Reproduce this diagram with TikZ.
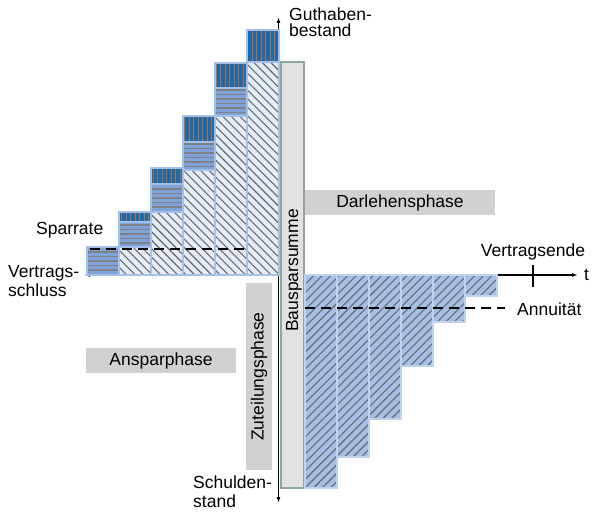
\documentclass[tikz,border=0pt]{standalone}
\usepackage{fontspec}
\setmainfont{Liberation Sans}
\usetikzlibrary{arrows.meta, positioning, patterns.meta}
\definecolor{bspBorder}{RGB}{164, 191, 232}
\definecolor{bspLight}{RGB}{228, 236, 248}
\definecolor{bspMid}{RGB}{126, 163, 216}
\definecolor{bspDark}{RGB}{28, 106, 168}
\definecolor{bspStripe}{RGB}{176, 112, 80}
\definecolor{bspDebt}{RGB}{166, 191, 230}
\definecolor{bspHatch}{RGB}{105, 105, 110}
\definecolor{bspPhase}{RGB}{208, 209, 208}
\definecolor{bspBar}{RGB}{226, 226, 226}
\definecolor{bspBarLine}{RGB}{138, 168, 160}

\begin{document}
\begin{tikzpicture}[
        x=1pt, y=-1pt,
        lbl/.style={font=\fontsize{17.5}{19}\selectfont, inner sep=0pt, align=left},
        phase/.style={rectangle, fill=bspPhase, inner sep=0pt, font=\fontsize{17.5}{19}\selectfont},
        saved/.style={draw=bspBorder, line width=2pt, preaction={fill=bspLight}, pattern={Lines[angle=-45, distance=6pt, line width=1.1pt]}, pattern color=bspHatch},
        rate/.style={draw=bspBorder, line width=2pt, preaction={fill=bspMid}, pattern={Lines[angle=0, distance=4.5pt, line width=1.2pt]}, pattern color=gray},
        interest/.style={draw=bspBorder, line width=2pt, preaction={fill=bspDark}, pattern={Lines[angle=90, distance=4.5pt, line width=1pt]}, pattern color=bspStripe},
        debt/.style={draw=bspBorder!70!white, line width=2pt, preaction={fill=bspDebt}, pattern={Lines[angle=45, distance=6pt, line width=1.1pt]}, pattern color=bspHatch},
        axis/.style={line width=1.2pt, {Latex[length=6pt, width=4pt]}-{Latex[length=6pt, width=4pt]}},
        marker/.style={line width=2.5pt, dash pattern=on 10pt off 6pt}
    ]
        \useasboundingbox (0,0) rectangle (594,513);

        % Axes
        \coordinate (ytop) at (278.5,17);
        \coordinate (ybottom) at (278.5,503);
        \coordinate (xleft) at (84,275);
        \coordinate (xright) at (578,275);
        \draw[axis] (ybottom) -- (ytop);
        \draw[axis] (xleft) -- (xright);
        \coordinate (ticktop) at (533,265);
        \coordinate (tickbottom) at (533,287);
        \draw[line width=1.6pt] (ticktop) -- (tickbottom);

        % Bausparsumme bar
        \draw[fill=bspBar, draw=bspBarLine, line width=1.5pt] (281,62) rectangle (304,488);
        \node[lbl, rotate=90, anchor=base west] (summe) at (298,332) {Bausparsumme};

        % Savings columns
        \draw[rate] (87,247) rectangle (119,275);
        \foreach \x/\s/\r/\z in {119/247/222/212, 151/212/184/168, 183/170/142/116, 215/116/88/63}{
            \draw[saved] (\x,\s) rectangle (\x+32,275);
            \draw[rate] (\x,\r) rectangle (\x+32,\s);
            \draw[interest] (\x,\z) rectangle (\x+32,\r);
        }
        \draw[saved] (247,62) rectangle (279,275);
        \draw[interest] (247,30) rectangle (279,62);

        % Loan columns
        \foreach \i/\b in {0/488, 1/457, 2/419, 3/366, 4/322, 5/296}{
            \draw[debt] (305+32*\i,275) rectangle (337+32*\i,\b);
        }

        % Dashed levels
        \coordinate (rateA) at (90,249);
        \coordinate (rateB) at (245,249);
        \draw[marker] (rateA) -- (rateB);
        \coordinate (annA) at (305,308);
        \coordinate (annB) at (505,308);
        \draw[marker] (annA) -- (annB);

        % Phases
        \node[phase, minimum width=190pt, minimum height=25pt] (darlehen) at (400,202.5) {Darlehensphase};
        \node[phase, minimum width=150pt, minimum height=25pt] (anspar) at (161,360.5) {Ansparphase};
        \node[phase, rotate=90, minimum width=187pt, minimum height=26pt] (zuteilung) at (259,376.5) {Zuteilungsphase};

        % Labels
        \node[lbl, anchor=base west] (guthaben) at (289,37) {Guthaben-\\[-3pt]bestand};
        \node[lbl, anchor=base west] (sparrate) at (36,234) {Sparrate};
        \node[lbl, anchor=base west] (schluss) at (8,296) {Vertrags-\\schluss};
        \node[lbl, anchor=base west] (schulden) at (193,507) {Schulden-\\stand};
        \node[lbl, above=5pt of ticktop] (ende) {Vertragsende};
        \node[lbl, right=6pt of xright] (t) {t};
        \node[lbl, anchor=base west] (annuitaet) at (517,315) {Annuität};
    \end{tikzpicture}
\end{document}
